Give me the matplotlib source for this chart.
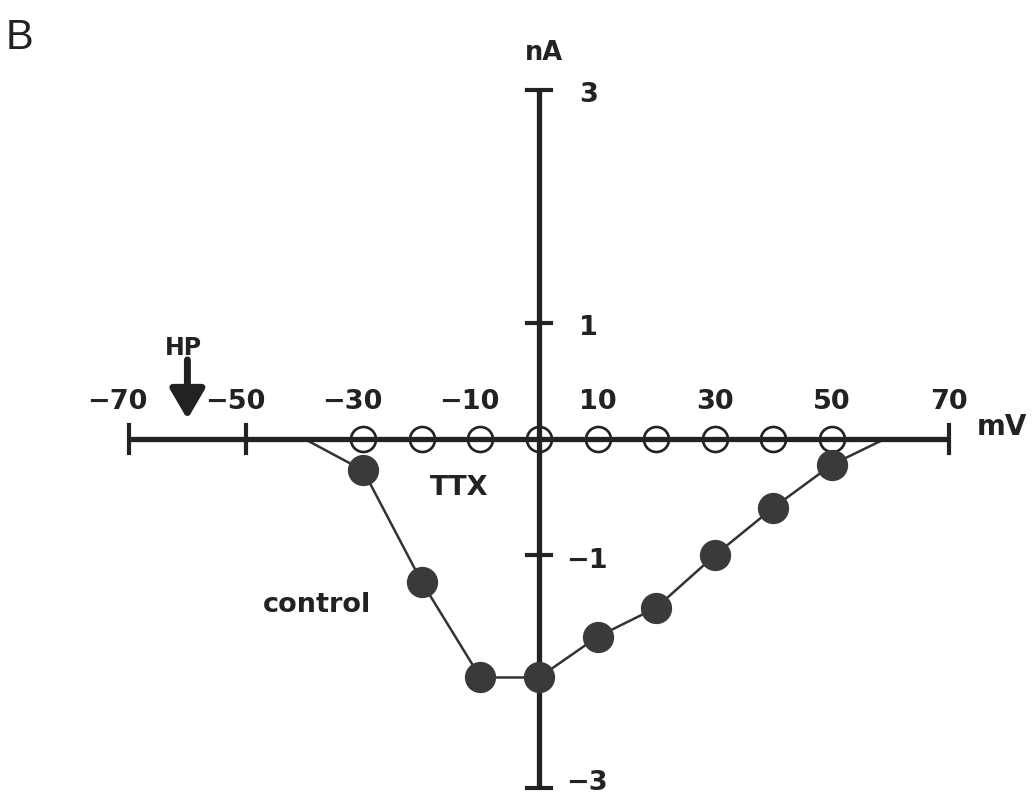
import matplotlib
matplotlib.use("Agg")
import matplotlib.pyplot as plt

# --- Data: peak inward current vs. step potential ---
control_mv = [-30, -20, -10, 0, 10, 20, 30, 40, 50]
control_na = [-0.27, -1.23, -2.05, -2.05, -1.70, -1.45, -1.00, -0.59, -0.22]
ttx_mv = [-30, -20, -10, 0, 10, 20, 30, 40, 50]
ttx_na = [0, 0, 0, 0, 0, 0, 0, 0, 0]
# where the control curve leaves and rejoins the zero-current line
control_onset_mv = -40
control_reversal_mv = 59
holding_mv = -60

x_ticks = [-70, -50, -30, -10, 10, 30, 50, 70]
x_tick_marks = [-70, -50, 70]
y_ticks = [3, 1, -1, -3]

INK = "#222222"
DOT = "#3a3a3a"
FONT = "DejaVu Sans"

# --- Figure: one axes filling the canvas, drawn axes instead of spines ---
fig = plt.figure(figsize=(10.32, 7.99), dpi=100)
ax = fig.add_axes([0, 0, 1, 1])
ax.set_xlim(-539 / 5.86, (1032 - 539) / 5.86)
ax.set_ylim((439 - 799) / 116.33, 439 / 116.33)
ax.axis("off")

# axis lines
ax.plot([-70, 70], [0, 0], color=INK, lw=3.8, solid_capstyle="butt", zorder=4)
ax.plot([0, 0], [-3, 3], color=INK, lw=3.8, solid_capstyle="butt", zorder=4)
for v in x_tick_marks:
    ax.plot([v, v], [-0.12, 0.12], color=INK, lw=3, zorder=4)
for v in y_ticks:
    ax.plot([-2.05, 2.05], [v, v], color=INK, lw=3, zorder=4)

# tick labels
for v in x_ticks:
    if v < 0:
        ax.text(v - 1.9, 0.258, "\u2212%d" % abs(v), ha="center", va="baseline",
                fontsize=19.5, fontweight="bold", family=FONT, color=INK)
    else:
        ax.text(v, 0.258, "%d" % v, ha="center", va="baseline",
                fontsize=19.5, fontweight="bold", family=FONT, color=INK)
for v in y_ticks:
    lbl = ("\u2212%d" % abs(v)) if v < 0 else "%d" % v
    xpos = 4.6 if v < 0 else 6.8
    ybase = v - 0.105 if v > -3 else v - 0.02
    ax.text(xpos, ybase, lbl, ha="left", va="baseline",
            fontsize=19.5, fontweight="bold", family=FONT, color=INK)

ax.text(0.85, 3.258, "nA", ha="center", va="baseline", fontsize=18.5,
        fontweight="bold", family=FONT, color=INK)
ax.text(74.7, 0.034, "mV", ha="left", va="baseline", fontsize=20,
        fontweight="bold", family=FONT, color=INK)

# control I-V curve, joined to the zero line at both ends
line_x = [control_onset_mv] + control_mv + [control_reversal_mv]
line_y = [0] + control_na + [0]
ax.plot(line_x, line_y, color="#333333", lw=1.8, zorder=2)
ax.plot(control_mv, control_na, "o", ms=21.5, color=DOT, mec=DOT, zorder=5)

# TTX: open circles on the zero line
ax.plot(ttx_mv, ttx_na, "o", ms=18, mfc="white", mec=INK, mew=1.9, zorder=3)

ax.text(-13.65, -0.481, "TTX", ha="center", va="baseline", fontsize=19.5,
        fontweight="bold", family=FONT, color=INK)
ax.text(-37.9, -1.487, "control", ha="center", va="baseline", fontsize=19.5,
        fontweight="bold", family=FONT, color=INK)

# holding potential marker
ax.annotate("", xy=(holding_mv, 0.17), xytext=(holding_mv, 0.68),
            arrowprops=dict(arrowstyle="-|>,head_length=0.6,head_width=0.35",
                            lw=5, color=INK, mutation_scale=30,
                            shrinkA=0, shrinkB=0))
ax.text(holding_mv - 0.75, 0.72, "HP", ha="center", va="baseline", fontsize=17,
        fontweight="bold", family=FONT, color=INK)

fig.text(6 / 1032, 1 - 49 / 799, "B", ha="left", va="baseline", fontsize=30,
         family="Liberation Sans", color=INK)

fig.savefig("out.png", dpi=100)
